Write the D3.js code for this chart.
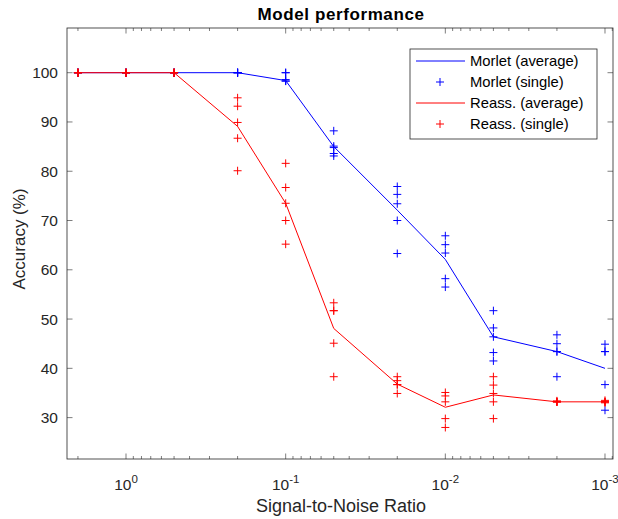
<!DOCTYPE html>
<html>
<head>
<meta charset="utf-8">
<script src="https://cdn.jsdelivr.net/npm/d3@7"></script>
<style>
  body { margin: 0; background: #fff; }
  text { font-family: "Liberation Sans", Arial, sans-serif; fill: #262626; }
</style>
</head>
<body>
<svg></svg>
<script>
// SNR values (x axis is reversed log)
let snr = [2, 1, 0.5, 0.2, 0.1, 0.05, 0.02, 0.01, 0.005, 0.002, 0.001];

let morletAvg = [100, 100, 100, 100, 98.4, 85.0, 72.1, 62.1, 46.4, 43.4, 40.0];
let reassAvg = [100, 100, 100, 89.1, 73.5, 48.1, 36.8, 32.1, 34.6, 33.2, 33.2];

// single trials, one row per SNR
let morletSingle = [
  [100, 100, 100, 100, 100],
  [100, 100, 100, 100, 100],
  [100, 100, 100, 100, 100],
  [100, 100, 100, 100, 100],
  [100, 100, 98.6, 98.3, 98.3],
  [88.2, 85.1, 84.8, 83.6, 83.1],
  [76.9, 75.3, 73.4, 70.0, 63.3],
  [66.9, 65.1, 63.4, 58.2, 56.5],
  [51.7, 48.2, 46.4, 43.2, 41.5],
  [46.8, 45.0, 43.4, 43.4, 38.3],
  [44.9, 43.4, 43.4, 36.7, 31.5]
];
let reassSingle = [
  [100, 100, 100, 100, 100],
  [100, 100, 100, 100, 100],
  [100, 100, 100, 100, 100],
  [94.9, 93.2, 89.9, 86.7, 80.1],
  [81.6, 76.7, 73.5, 70.0, 65.2],
  [53.3, 51.7, 51.7, 45.1, 38.3],
  [38.3, 37.5, 36.7, 36.7, 34.9],
  [35.1, 34.4, 33.2, 29.8, 28.0],
  [38.3, 36.6, 34.9, 33.2, 29.8],
  [33.2, 33.2, 33.2, 33.4, 33.2],
  [33.2, 33.5, 33.2, 33.0, 33.2]
];

let yTicks = [30, 40, 50, 60, 70, 80, 90, 100];
let xMajor = [1, 0.1, 0.01, 0.001];
let legendLabels = ["Morlet (average)", "Morlet (single)", "Reass. (average)", "Reass. (single)"];

let width = 618;
let height = 519;
let padL = 67, padR = 613, padT = 28, padB = 459;

let svg = d3.select("svg").attr("width", width).attr("height", height);
svg.append("rect").attr("width", width).attr("height", height).attr("fill", "#fff");

let xScale = d3.scaleLog().domain([2.342, 0.000891]).range([padL, padR]);
let yScale = d3.scaleLinear().domain([21.6, 109.07]).range([padB, padT]);

// minor ticks
let minor = [];
[1, 0.1, 0.01, 0.001, 0.0001].forEach((d) => {
  for (let k = 1; k <= 9; k++) minor.push(d * k);
});
minor = minor.filter((v) => v <= 2.342 && v >= 0.000891);

let g = svg.append("g");

// axes box ticks (inward, on all four sides)
let tickG = g.append("g").attr("stroke", "#262626").attr("stroke-width", 0.6);
minor.forEach((v) => {
  let major = xMajor.some((m) => Math.abs(m - v) < 1e-9);
  let len = major ? 5.5 : 3;
  let x = xScale(v);
  tickG.append("line").attr("x1", x).attr("x2", x).attr("y1", padB).attr("y2", padB - len);
  tickG.append("line").attr("x1", x).attr("x2", x).attr("y1", padT).attr("y2", padT + len);
});
yTicks.forEach((v) => {
  let y = yScale(v);
  tickG.append("line").attr("x1", padL).attr("x2", padL + 5.5).attr("y1", y).attr("y2", y);
  tickG.append("line").attr("x1", padR).attr("x2", padR - 5.5).attr("y1", y).attr("y2", y);
});

// lines
let line = d3.line()
  .x((d, i) => xScale(snr[i]))
  .y((d) => yScale(d));

let drawSingles = (data, color) => {
  data.forEach((row, i) => {
    row.forEach((v) => {
      let x = xScale(snr[i]), y = yScale(v);
      g.append("path")
        .attr("d", `M${x - 4},${y}H${x + 4}M${x},${y - 4}V${y + 4}`)
        .attr("stroke", color).attr("stroke-width", 1).attr("fill", "none");
    });
  });
};

g.append("path").datum(morletAvg).attr("d", line)
  .attr("fill", "none").attr("stroke", "#0000ff").attr("stroke-width", 1);
drawSingles(morletSingle, "#0000ff");
g.append("path").datum(reassAvg).attr("d", line)
  .attr("fill", "none").attr("stroke", "#ff0000").attr("stroke-width", 1);
drawSingles(reassSingle, "#ff0000");

// box
g.append("rect").attr("x", padL).attr("y", padT)
  .attr("width", padR - padL).attr("height", padB - padT)
  .attr("fill", "none").attr("stroke", "#262626").attr("stroke-width", 0.8);

// tick labels
yTicks.forEach((v) => {
  svg.append("text").attr("x", padL - 9).attr("y", yScale(v) + 5.5)
    .attr("text-anchor", "end").attr("font-size", 15.5).text(v);
});
xMajor.forEach((v) => {
  let t = svg.append("text").attr("x", xScale(v)).attr("y", 490)
    .attr("text-anchor", "middle").attr("font-size", 15.5);
  t.append("tspan").text("10");
  t.append("tspan").attr("dy", -7).attr("font-size", 11.5).text(Math.round(Math.log10(v)));
});

// axis labels and title
svg.append("text").attr("x", (padL + padR) / 2 + 1).attr("y", 512)
  .attr("text-anchor", "middle").attr("font-size", 18).text("Signal-to-Noise Ratio");
svg.append("text").attr("transform", `translate(25,239) rotate(-90)`)
  .attr("text-anchor", "middle").attr("font-size", 17).text("Accuracy (%)");
svg.append("text").attr("x", (padL + padR) / 2 + 1).attr("y", 19.5)
  .attr("text-anchor", "middle").attr("font-size", 17).attr("font-weight", "bold")
  .attr("letter-spacing", 0.6)
  .style("fill", "#000").text("Model performance");

// legend
let lg = svg.append("g");
lg.append("rect").attr("x", 410).attr("y", 49).attr("width", 187).attr("height", 90)
  .attr("fill", "#fff").attr("stroke", "#262626").attr("stroke-width", 0.8);
let legendColors = ["#0000ff", "#0000ff", "#ff0000", "#ff0000"];
legendLabels.forEach((lab, i) => {
  let y = 61 + i * 21;
  if (i % 2 === 0) {
    lg.append("line").attr("x1", 416).attr("x2", 465).attr("y1", y).attr("y2", y)
      .attr("stroke", legendColors[i]).attr("stroke-width", 1);
  } else {
    lg.append("path").attr("d", `M${436},${y}H${444}M${440},${y - 4}V${y + 4}`)
      .attr("stroke", legendColors[i]).attr("stroke-width", 1);
  }
  lg.append("text").attr("x", 470).attr("y", y + 5).attr("font-size", 14.8).style("fill", "#000").text(lab);
});
</script>
</body>
</html>
